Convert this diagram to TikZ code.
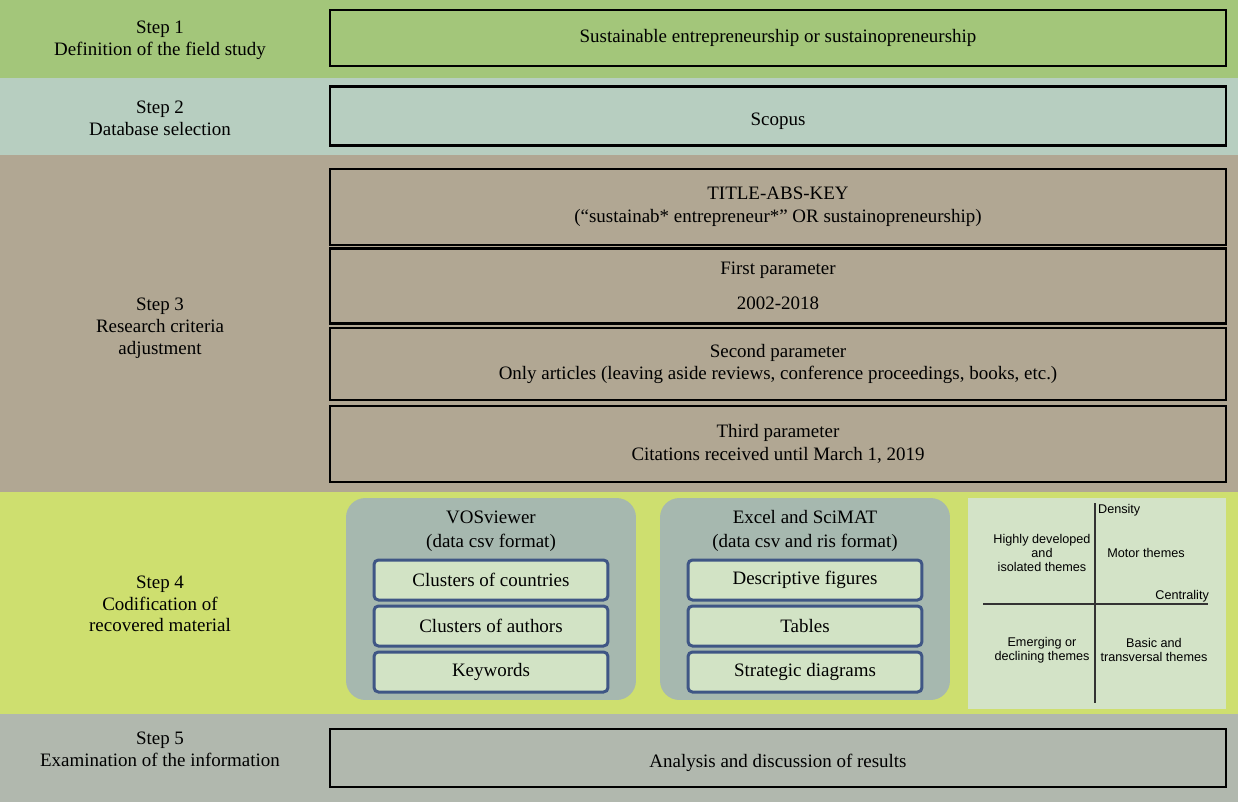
\documentclass[tikz,border=0pt]{standalone}
\usepackage{fontspec}
\setmainfont{Liberation Serif}
\setsansfont{Liberation Sans}
\definecolor{bandA}{HTML}{A3C67A}
\definecolor{bandB}{HTML}{B7CEC0}
\definecolor{bandC}{HTML}{B1A793}
\definecolor{bandD}{HTML}{CEDF6F}
\definecolor{bandE}{HTML}{B1B8AE}
\definecolor{groupfill}{HTML}{A6B8AF}
\definecolor{innerfill}{HTML}{D2E3C5}
\definecolor{innerdraw}{HTML}{3F5685}
\definecolor{stratfill}{HTML}{D3E3C7}
\tikzset{
  steplabel/.style={align=center, font=\fontsize{10.8}{12.4}\selectfont},
  mainbox/.style={draw=black, line width=1.3pt, align=center, minimum width=17.92cm, inner sep=0pt},
  lowtext/.style={label={[yshift=-3pt]center:#1}},
  groupbox/.style={fill=groupfill, rounded corners=11pt, minimum width=5.8cm, minimum height=4.04cm, inner sep=0pt},
  grouptitle/.style={font=\fontsize{10.8}{12}\selectfont},
  innerbox/.style={draw=innerdraw, fill=innerfill, line width=1.7pt, rounded corners=2.5pt, minimum width=4.68cm, minimum height=0.8cm, inner sep=0pt},
  stratbox/.style={fill=stratfill, minimum width=5.16cm, minimum height=4.24cm, inner sep=0pt},
  stratlabel/.style={font=\sffamily\fontsize{7.2}{7.8}\selectfont, align=center, inner sep=1pt},
  axis/.style={draw=black!80, line width=0.6pt}
}
\begin{document}
\begin{tikzpicture}[x=0.02cm, y=-0.02cm, font=\fontsize{10.8}{13}\selectfont]
\useasboundingbox (0,0) rectangle (1238,802);
% bands
\fill[bandA] (0,0) rectangle (1238,78);
\fill[bandB] (0,78) rectangle (1238,155);
\fill[bandC] (0,155) rectangle (1238,492);
\fill[bandD] (0,492) rectangle (1238,714);
\fill[bandE] (0,714) rectangle (1238,802);
% step labels
\node[steplabel] (l1) at (160,40) {Step 1\\Definition of the field study};
\node[steplabel] (l2) at (160,118) {Step 2\\Database selection};
\node[steplabel] (l3) at (160,328) {Step 3\\Research criteria\\adjustment};
\node[steplabel] (l4) at (160,604) {Step 4\\Codification of\\recovered material};
\node[steplabel] (l5) at (160,749) {Step 5\\Examination of the information};
% main boxes
\node[mainbox, minimum height=1.12cm] (b1) at (778,38) {Sustainable entrepreneurship or sustainopreneurship};
\node[mainbox, minimum height=1.18cm, lowtext={Scopus}] (b2) at (778,116) {};
\node[mainbox, minimum height=1.52cm] (b3a) at (778,207) {TITLE-ABS-KEY\\(“sustainab* entrepreneur*” OR sustainopreneurship)};
\node[mainbox, minimum height=1.50cm] (b3b) at (778,286) {First parameter\\[7pt]2002-2018};
\node[mainbox, minimum height=1.44cm] (b3c) at (778,364) {Second parameter\\Only articles (leaving aside reviews, conference proceedings, books, etc.)};
\node[mainbox, minimum height=1.52cm] (b3d) at (778,444) {Third parameter\\Citations received until March 1, 2019};
\node[mainbox, minimum height=1.16cm, lowtext={Analysis and discussion of results}] (b5) at (778,758) {};
% step 4 groups
\node[groupbox] (g1) at (491,599) {};
\node[groupbox] (g2) at (805,599) {};
\node[grouptitle] (g1t) at (491,517) {VOSviewer};
\node[grouptitle] (g1s) at (491,543) {(data csv format)};
\node[grouptitle] (g2t) at (805,517) {Excel and SciMAT};
\node[grouptitle] (g2s) at (805,543) {(data csv and ris format)};
\node[innerbox] (c1) at (491,580) {Clusters of countries};
\node[innerbox] (c2) at (491,626) {Clusters of authors};
\node[innerbox] (c3) at (491,672) {Keywords};
\node[innerbox] (e1) at (805,580) {Descriptive figures};
\node[innerbox] (e2) at (805,626) {Tables};
\node[innerbox] (e3) at (805,672) {Strategic diagrams};
% strategic diagram
\node[stratbox] (sd) at (1097,603.5) {};
\coordinate (vtop) at (1095,503);
\coordinate (vbot) at (1095,703);
\coordinate (hl) at (983,604);
\coordinate (hr) at (1208,604);
\draw[axis] (vtop) -- (vbot);
\draw[axis] (hl) -- (hr);
\node[stratlabel, anchor=west] (dens) at (1096,510) {Density};
\node[stratlabel, anchor=east] (cent) at (1211,596) {Centrality};
\node[stratlabel] (q1) at (1042,553) {Highly developed\\and\\isolated themes};
\node[stratlabel] (q2) at (1146,553) {Motor themes};
\node[stratlabel] (q3) at (1042,650) {Emerging or\\declining themes};
\node[stratlabel] (q4) at (1154,650) {Basic and\\transversal themes};
\end{tikzpicture}
\end{document}
